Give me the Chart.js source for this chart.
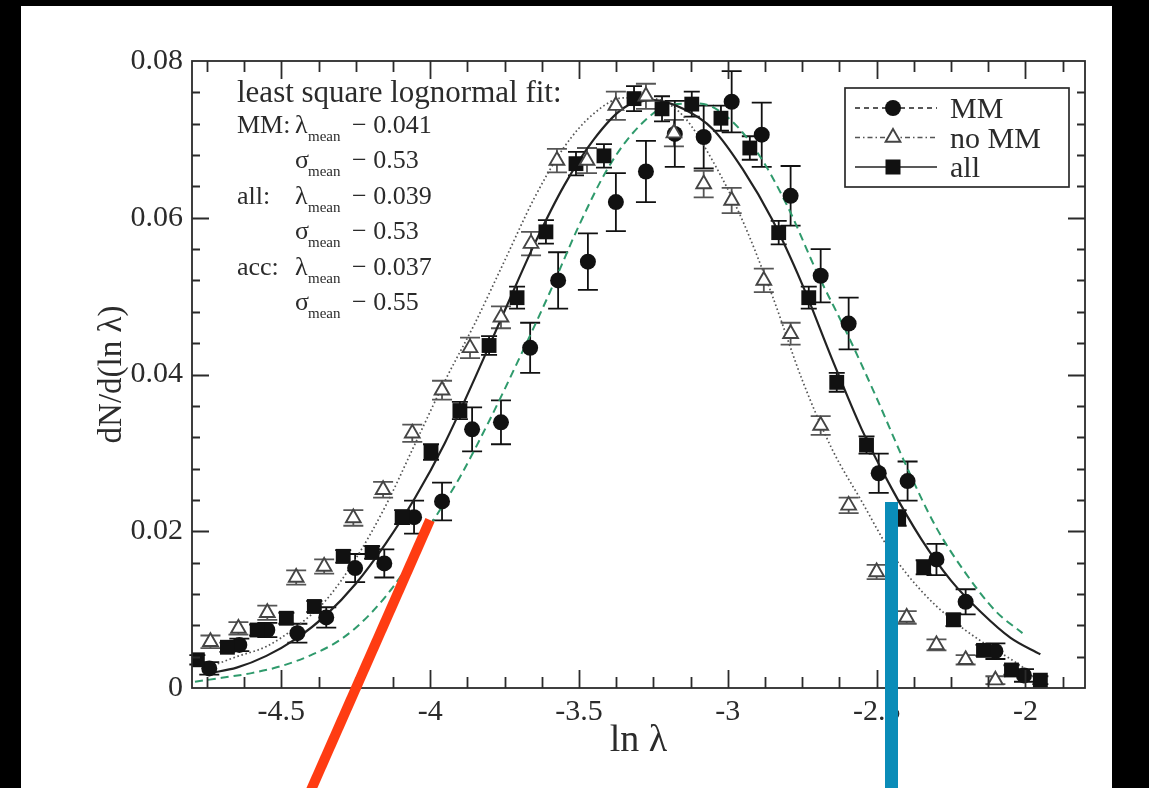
<!DOCTYPE html>
<html>
<head>
<meta charset="utf-8">
<script src="https://cdn.jsdelivr.net/npm/chart.js@4/dist/chart.umd.min.js"></script>
<style>
  html, body { margin: 0; padding: 0; background: #000; }
  canvas { display: block; }
</style>
</head>
<body>
<canvas id="lnChart" width="1149" height="788"></canvas>
<script>
// --- data ---
var mmX   = [-4.742,-4.641,-4.547,-4.446,-4.349,-4.252,-4.154,-4.054,-3.960,-3.859,-3.762,-3.664,-3.570,-3.470,-3.376,-3.275,-3.178,-3.081,-2.987,-2.886,-2.789,-2.688,-2.594,-2.493,-2.396,-2.299,-2.201,-2.101,-2.005];
var mmY   = [0.0025,0.0055,0.0074,0.0070,0.0090,0.0153,0.0159,0.0218,0.0238,0.0330,0.0339,0.0434,0.0520,0.0544,0.0620,0.0659,0.0707,0.0703,0.0748,0.0706,0.0628,0.0526,0.0465,0.0274,0.0264,0.0164,0.0110,0.0047,0.0016];
var mmErr = [0.0008,0.0008,0.0009,0.0012,0.0013,0.0018,0.0018,0.0021,0.0024,0.0028,0.0028,0.0032,0.0036,0.0036,0.0037,0.0039,0.0042,0.0040,0.0039,0.0041,0.0038,0.0034,0.0033,0.0025,0.0025,0.0020,0.0016,0.0010,0.0008];

var noMmX   = [-4.738,-4.644,-4.547,-4.450,-4.356,-4.258,-4.158,-4.060,-3.960,-3.866,-3.762,-3.661,-3.574,-3.473,-3.376,-3.275,-3.181,-3.081,-2.987,-2.879,-2.789,-2.688,-2.594,-2.500,-2.399,-2.299,-2.201,-2.101];
var noMmY   = [0.0059,0.0076,0.0096,0.0141,0.0155,0.0217,0.0253,0.0325,0.0380,0.0434,0.0473,0.0567,0.0673,0.0673,0.0743,0.0755,0.0708,0.0643,0.0622,0.0520,0.0452,0.0335,0.0233,0.0148,0.0090,0.0055,0.0036,0.0010];
var noMmErr = [0.0008,0.0008,0.0009,0.0009,0.0009,0.0010,0.0010,0.0011,0.0012,0.0013,0.0014,0.0015,0.0015,0.0016,0.0018,0.0016,0.0017,0.0017,0.0016,0.0015,0.0014,0.0012,0.0010,0.0009,0.0008,0.0007,0.0006,0.0005];

var allX   = [-4.782,-4.681,-4.581,-4.483,-4.389,-4.292,-4.195,-4.094,-3.997,-3.900,-3.802,-3.708,-3.611,-3.510,-3.416,-3.315,-3.221,-3.121,-3.023,-2.926,-2.829,-2.728,-2.634,-2.534,-2.426,-2.342,-2.242,-2.141,-2.047,-1.950];
var allY   = [0.0036,0.0052,0.0074,0.0089,0.0104,0.0168,0.0173,0.0218,0.0301,0.0354,0.0437,0.0498,0.0582,0.0669,0.0679,0.0752,0.0739,0.0745,0.0727,0.0689,0.0581,0.0498,0.0390,0.0310,0.0217,0.0154,0.0087,0.0048,0.0023,0.0010];
var allErr = [0.0006,0.0006,0.0007,0.0007,0.0007,0.0008,0.0008,0.0009,0.0010,0.0011,0.0012,0.0014,0.0015,0.0015,0.0015,0.0016,0.0016,0.0016,0.0016,0.0015,0.0015,0.0014,0.0012,0.0011,0.0010,0.0009,0.0008,0.0007,0.0006,0.0005];

// lognormal fit curves
var allFitX = [-4.74,-4.65,-4.55,-4.45,-4.35,-4.25,-4.15,-4.05,-3.95,-3.85,-3.75,-3.65,-3.55,-3.45,-3.35,-3.25,-3.15,-3.05,-2.95,-2.85,-2.75,-2.65,-2.55,-2.45,-2.35,-2.25,-2.15,-2.05,-1.95];
var allFitY = [0.0019,0.0026,0.0041,0.0063,0.0093,0.0133,0.0184,0.0243,0.0313,0.0395,0.0481,0.0566,0.0641,0.0700,0.0740,0.0750,0.0739,0.0713,0.0662,0.0597,0.0515,0.0420,0.0330,0.0255,0.0190,0.0137,0.0097,0.0064,0.0043];

var mmFitX = [-4.79,-4.70,-4.60,-4.50,-4.40,-4.30,-4.20,-4.10,-4.00,-3.90,-3.80,-3.70,-3.60,-3.50,-3.40,-3.30,-3.20,-3.10,-3.00,-2.90,-2.80,-2.70,-2.60,-2.50,-2.40,-2.30,-2.20,-2.10,-2.01];
var mmFitY = [0.0008,0.0013,0.0019,0.0028,0.0042,0.0062,0.0095,0.0142,0.0207,0.0269,0.0342,0.0421,0.0503,0.0590,0.0665,0.0716,0.0743,0.0746,0.0728,0.0683,0.0615,0.0530,0.0453,0.0370,0.0283,0.0205,0.0146,0.0098,0.0070];

var noMmFitX = [-4.74,-4.65,-4.55,-4.45,-4.35,-4.25,-4.15,-4.05,-3.95,-3.85,-3.75,-3.65,-3.55,-3.45,-3.35,-3.25,-3.15,-3.05,-2.95,-2.85,-2.75,-2.65,-2.55,-2.45,-2.35,-2.25,-2.15,-2.05,-1.98];
var noMmFitY = [0.0027,0.0040,0.0053,0.0078,0.0112,0.0165,0.0232,0.0312,0.0392,0.0465,0.0545,0.0625,0.0690,0.0733,0.0753,0.0752,0.0730,0.0672,0.0596,0.0500,0.0393,0.0305,0.0238,0.0172,0.0124,0.0088,0.0060,0.0037,0.0019];

var xTickValues = [-4.5, -4, -3.5, -3, -2.5, -2];
var yTickValues = [0, 0.02, 0.04, 0.06, 0.08];

var legendLabels = ['MM', 'no MM', 'all'];
var fitGroups = ['MM:', 'all:', 'acc:'];
var lambdaMeans = ['0.041', '0.039', '0.037'];
var sigmaMeans = ['0.53', '0.53', '0.55'];

var SERIF = '"Liberation Serif", "DejaVu Serif", serif';
var INK = '#2b2b2b';

function toPoints(xs, ys) {
  return xs.map(function (x, i) { return {x: x, y: ys[i]}; });
}

// white page behind the plot
const pageBg = {
  id: 'pageBg',
  beforeDraw(chart) {
    const ctx = chart.ctx;
    ctx.save();
    ctx.fillStyle = '#fff';
    ctx.fillRect(21, 6, 1091, 782);
    ctx.restore();
  }
};

// vertical error bars with caps
const errorBars = {
  id: 'errorBars',
  beforeDatasetsDraw(chart) {
    const ctx = chart.ctx, xs = chart.scales.x, ys = chart.scales.y;
    chart.data.datasets.forEach(function (ds) {
      if (!ds.errors) return;
      ctx.save();
      ctx.strokeStyle = ds.errorColor;
      ctx.lineWidth = 1.8;
      ds.data.forEach(function (p, j) {
        const px = xs.getPixelForValue(p.x);
        const top = ys.getPixelForValue(p.y + ds.errors[j]);
        const bot = ys.getPixelForValue(p.y - ds.errors[j]);
        ctx.beginPath();
        ctx.moveTo(px, top); ctx.lineTo(px, bot);
        ctx.moveTo(px - ds.capHalf, top); ctx.lineTo(px + ds.capHalf, top);
        ctx.moveTo(px - ds.capHalf, bot); ctx.lineTo(px + ds.capHalf, bot);
        ctx.stroke();
      });
      ctx.restore();
    });
  }
};

// closed frame with inward ticks on all four sides
const frameTicks = {
  id: 'frameTicks',
  afterDatasetsDraw(chart) {
    const ctx = chart.ctx, a = chart.chartArea, xs = chart.scales.x, ys = chart.scales.y;
    ctx.save();
    ctx.strokeStyle = INK;
    ctx.lineWidth = 1.8;
    ctx.strokeRect(a.left, a.top, a.right - a.left, a.bottom - a.top);
    ctx.beginPath();
    for (let k = 0; k < 24; k++) {
      const v = -4.75 + k * 0.125;
      const major = xTickValues.some(function (t) { return Math.abs(t - v) < 1e-6; });
      const len = major ? 18 : 11;
      const px = Math.round(xs.getPixelForValue(v)) + 0.5;
      ctx.moveTo(px, a.bottom); ctx.lineTo(px, a.bottom - len);
      ctx.moveTo(px, a.top); ctx.lineTo(px, a.top + len);
    }
    for (let k = 1; k < 20; k++) {
      const v = k * 0.004;
      const major = k % 5 === 0;
      const len = major ? 17 : 8;
      const py = Math.round(ys.getPixelForValue(v)) + 0.5;
      ctx.moveTo(a.left, py); ctx.lineTo(a.left + len, py);
      ctx.moveTo(a.right, py); ctx.lineTo(a.right - len, py);
    }
    ctx.stroke();
    ctx.restore();
  }
};

function drawMarker(ctx, kind, x, y) {
  ctx.beginPath();
  if (kind === 'circle') {
    ctx.fillStyle = '#111';
    ctx.arc(x, y, 8, 0, Math.PI * 2);
    ctx.fill();
  } else if (kind === 'rect') {
    ctx.fillStyle = '#111';
    ctx.fillRect(x - 7.5, y - 7.5, 15, 15);
  } else {
    ctx.fillStyle = '#fff';
    ctx.strokeStyle = '#444';
    ctx.lineWidth = 1.9;
    ctx.moveTo(x, y - 8.5);
    ctx.lineTo(x + 7.4, y + 4.25);
    ctx.lineTo(x - 7.4, y + 4.25);
    ctx.closePath();
    ctx.fill();
    ctx.stroke();
  }
}

// legend box and the fit annotation
const legendAndNotes = {
  id: 'legendAndNotes',
  afterDraw(chart) {
    const ctx = chart.ctx, a = chart.chartArea;
    ctx.save();
    const bx = a.right - 240, by = a.top + 27, bw = 224, bh = 99;
    ctx.fillStyle = '#fff';
    ctx.fillRect(bx, by, bw, bh);
    ctx.strokeStyle = INK;
    ctx.lineWidth = 1.7;
    ctx.strokeRect(bx, by, bw, bh);
    const kinds = ['circle', 'triangle', 'rect'];
    const dashes = [[5, 4], [5, 3, 1.5, 3], []];
    const lineColors = ['#222', '#555', '#222'];
    legendLabels.forEach(function (lab, i) {
      const ry = by + 20 + i * 29.5;
      ctx.save();
      ctx.strokeStyle = lineColors[i];
      ctx.lineWidth = 1.7;
      ctx.setLineDash(dashes[i]);
      ctx.beginPath();
      ctx.moveTo(bx + 10, ry); ctx.lineTo(bx + 92, ry);
      ctx.stroke();
      ctx.restore();
      drawMarker(ctx, kinds[i], bx + 48, ry);
      ctx.fillStyle = INK;
      ctx.font = '30px ' + SERIF;
      ctx.textBaseline = 'alphabetic';
      ctx.fillText(lab, bx + 105, ry + 10);
    });

    // least square fit parameters
    const tx = a.left + 45;
    ctx.fillStyle = INK;
    ctx.font = '31px ' + SERIF;
    ctx.fillText('least square lognormal fit:', tx, a.top + 41);
    fitGroups.forEach(function (g, i) {
      const yl = a.top + 72 + i * 71;
      const ys = yl + 35;
      ctx.font = '26px ' + SERIF;
      ctx.fillText(g, tx, yl);
      ctx.fillText('\u03bb', tx + 58, yl);
      ctx.fillText('\u03c3', tx + 58, ys);
      ctx.fillText('\u2212 ' + lambdaMeans[i], tx + 115, yl);
      ctx.fillText('\u2212 ' + sigmaMeans[i], tx + 115, ys);
      ctx.font = '15px ' + SERIF;
      ctx.fillText('mean', tx + 71, yl + 8);
      ctx.fillText('mean', tx + 71, ys + 8);
    });
    ctx.restore();
  }
};

// coloured marker strokes that sit on top of the figure
const overlays = {
  id: 'overlays',
  afterDraw(chart) {
    const ctx = chart.ctx;
    ctx.save();
    ctx.strokeStyle = '#ff3c12';
    ctx.lineWidth = 10;
    ctx.beginPath();
    ctx.moveTo(430, 520);
    ctx.lineTo(311, 790);
    ctx.stroke();
    ctx.fillStyle = '#0a8cb8';
    ctx.fillRect(885, 502, 13, 286);
    ctx.restore();
  }
};

const data = {
  datasets: [
    {
      label: 'no MM',
      data: toPoints(noMmX, noMmY),
      errors: noMmErr, errorColor: '#555', capHalf: 10,
      pointStyle: 'triangle', pointRadius: 8.5,
      backgroundColor: '#fff', borderColor: '#444', borderWidth: 1.9,
      showLine: false, order: 1
    },
    {
      label: 'all',
      data: toPoints(allX, allY),
      errors: allErr, errorColor: '#111', capHalf: 8,
      pointStyle: 'rect', pointRadius: 10.5,
      backgroundColor: '#111', borderColor: '#111', borderWidth: 0,
      showLine: false, order: 2
    },
    {
      label: 'MM',
      data: toPoints(mmX, mmY),
      errors: mmErr, errorColor: '#111', capHalf: 10,
      pointStyle: 'circle', pointRadius: 8,
      backgroundColor: '#111', borderColor: '#111', borderWidth: 0,
      showLine: false, order: 3
    },
    {
      label: 'all fit',
      data: toPoints(allFitX, allFitY),
      showLine: true, pointRadius: 0, borderColor: '#222', borderWidth: 2.2,
      cubicInterpolationMode: 'monotone', order: 4
    },
    {
      label: 'MM fit',
      data: toPoints(mmFitX, mmFitY),
      showLine: true, pointRadius: 0, borderColor: '#2f9a6c', borderWidth: 2,
      borderDash: [8, 5], cubicInterpolationMode: 'monotone', order: 5
    },
    {
      label: 'no MM fit',
      data: toPoints(noMmFitX, noMmFitY),
      showLine: true, pointRadius: 0, borderColor: '#555', borderWidth: 1.7,
      borderDash: [1.6, 2.6], cubicInterpolationMode: 'monotone', order: 6
    }
  ]
};

const config = {
  type: 'scatter',
  data: data,
  options: {
    responsive: false,
    animation: false,
    layout: { padding: { left: 0, top: 61, right: 64, bottom: 0 } },
    scales: {
      x: {
        type: 'linear',
        min: -4.8, max: -1.8,
        afterBuildTicks: function (s) { s.ticks = xTickValues.map(function (v) { return {value: v}; }); },
        afterFit: function (s) { s.height = 100; },
        grid: { display: false, drawTicks: false },
        border: { display: false },
        ticks: {
          padding: 6, color: INK, font: { family: SERIF, size: 30 },
          callback: function (v) { return String(v); }
        },
        title: {
          display: true, text: 'ln \u03bb', color: INK,
          font: { family: SERIF, size: 38 }, padding: { top: 0, bottom: 24 }
        }
      },
      y: {
        type: 'linear',
        min: 0, max: 0.08,
        afterBuildTicks: function (s) { s.ticks = yTickValues.map(function (v) { return {value: v}; }); },
        afterFit: function (s) { s.width = 192; },
        grid: { display: false, drawTicks: false },
        border: { display: false },
        ticks: {
          padding: 9, color: INK, font: { family: SERIF, size: 30 },
          callback: function (v) { return v === 0 ? '0' : v.toFixed(2); }
        },
        title: {
          display: true, text: 'dN/d(ln \u03bb)', color: INK,
          font: { family: SERIF, size: 33 }, padding: { top: 93, bottom: 0 }
        }
      }
    },
    plugins: {
      legend: { display: false },
      tooltip: { enabled: false }
    }
  },
  plugins: [pageBg, errorBars, frameTicks, legendAndNotes, overlays]
};

const lnChart = new Chart(document.getElementById('lnChart'), config);
</script>
</body>
</html>
